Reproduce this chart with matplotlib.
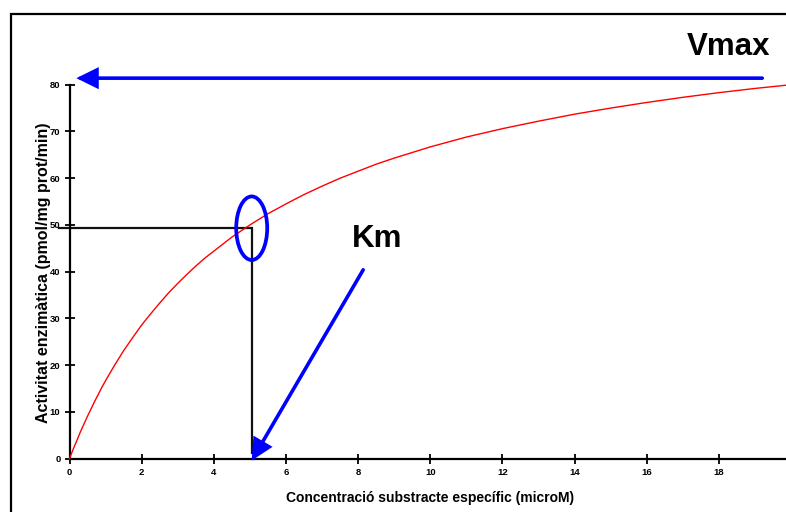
import matplotlib
matplotlib.use("Agg")
import matplotlib.pyplot as plt
from matplotlib.patches import Ellipse
from matplotlib.lines import Line2D

plt.rcParams['font.family'] = ['Liberation Sans', 'DejaVu Sans']

# Substrate concentration (microM) and enzyme activity (pmol/mg prot/min)
substrate = [0, 0.1, 0.2, 0.3, 0.4, 0.5, 0.6, 0.7, 0.8, 0.9, 1.0, 1.25, 1.5,
             1.75, 2, 2.25, 2.5, 2.75, 3, 3.25, 3.5, 3.75, 4, 4.5, 5, 5.5, 6,
             6.5, 7, 7.5, 8, 8.5, 9, 9.5, 10, 11, 12, 13, 14, 15, 16, 17, 18,
             19, 20]
activity = [0, 2.0, 3.8, 5.7, 7.4, 9.1, 10.7, 12.3, 13.8, 15.3, 16.7, 20.0,
            23.1, 25.9, 28.6, 31.0, 33.3, 35.5, 37.5, 39.4, 41.2, 42.9, 44.4,
            47.4, 50.0, 52.4, 54.5, 56.5, 58.3, 60.0, 61.5, 63.0, 64.3, 65.5,
            66.7, 68.8, 70.6, 72.2, 73.7, 75.0, 76.2, 77.3, 78.3, 79.2, 80.0]

x_ticks = [0, 2, 4, 6, 8, 10, 12, 14, 16, 18]
y_ticks = [0, 10, 20, 30, 40, 50, 60, 70, 80]

km_value = 5.05
half_vmax = 49.3
vmax_level = 81.4

W, H = 786, 512
fig = plt.figure(figsize=(W / 100, H / 100), dpi=100)

# axes placed in pixel terms
x0_px, x_per_unit = 69.5, 36.08
y0_px, y80_px = 458.7, 84.7
ax = fig.add_axes([x0_px / W, (H - y0_px) / H, 20 * x_per_unit / W, (y0_px - y80_px) / H])
ax.set_xlim(0, 20)
ax.set_ylim(0, 80)

for side in ('top', 'right'):
    ax.spines[side].set_visible(False)
for side in ('left', 'bottom'):
    ax.spines[side].set_linewidth(1.6)
    ax.spines[side].set_color('black')

ax.set_xticks(x_ticks)
ax.set_yticks(y_ticks)
ax.tick_params(direction='inout', length=7, width=1.3, labelsize=6.8, pad=3)
for lab in ax.get_xticklabels() + ax.get_yticklabels():
    lab.set_fontweight('bold')

ax.set_xlabel('Concentració substracte específic (microM)', fontsize=10,
              fontweight='bold', labelpad=10)
ax.set_ylabel('Activitat enzimàtica (pmol/mg prot/min)', fontsize=11.5,
              fontweight='bold')
ax.yaxis.set_label_coords(-0.026, 0.498)

# saturation curve
ax.plot(substrate, activity, color='red', lw=1.0, clip_on=False, zorder=3)

# Km guide lines
ax.plot([-0.28, km_value, km_value], [half_vmax, half_vmax, 1.3],
        color='#111111', lw=1.6, clip_on=False, zorder=2,
        solid_joinstyle='miter')

# ellipse around the half-maximal point
ax.add_patch(Ellipse((km_value, half_vmax), 0.86, 13.6, fill=False,
                     edgecolor='#0000ff', lw=2.7, zorder=4, clip_on=False))

arrow_style = dict(arrowstyle='-|>,head_length=0.85,head_width=0.42',
                   mutation_scale=14, color='#0000ff', fc='#0000ff',
                   ec='#0000ff', lw=2.6, shrinkA=0, shrinkB=0,
                   joinstyle='miter')

# Vmax arrow
ax.annotate('', xy=(0.19, vmax_level), xytext=(19.2, vmax_level),
            arrowprops=arrow_style, annotation_clip=False)

# Km arrow
ax.annotate('', xy=(km_value, -0.4), xytext=(8.14, 40.4),
            arrowprops=arrow_style, annotation_clip=False)

fig.text(687 / W, 1 - 55 / H, 'Vmax', fontsize=22.5, fontweight='bold',
         ha='left', va='baseline')
fig.text(352 / W, 1 - 246.7 / H, 'Km', fontsize=22.5, fontweight='bold',
         ha='left', va='baseline')

# outer frame (left and top edges)
fig.add_artist(Line2D([11 / W, 11 / W, 1.01], [-0.01, 1 - 14 / H, 1 - 14 / H],
                      transform=fig.transFigure, color='black', lw=1.6,
                      solid_joinstyle='miter'))

fig.savefig('out.png', dpi=100)
